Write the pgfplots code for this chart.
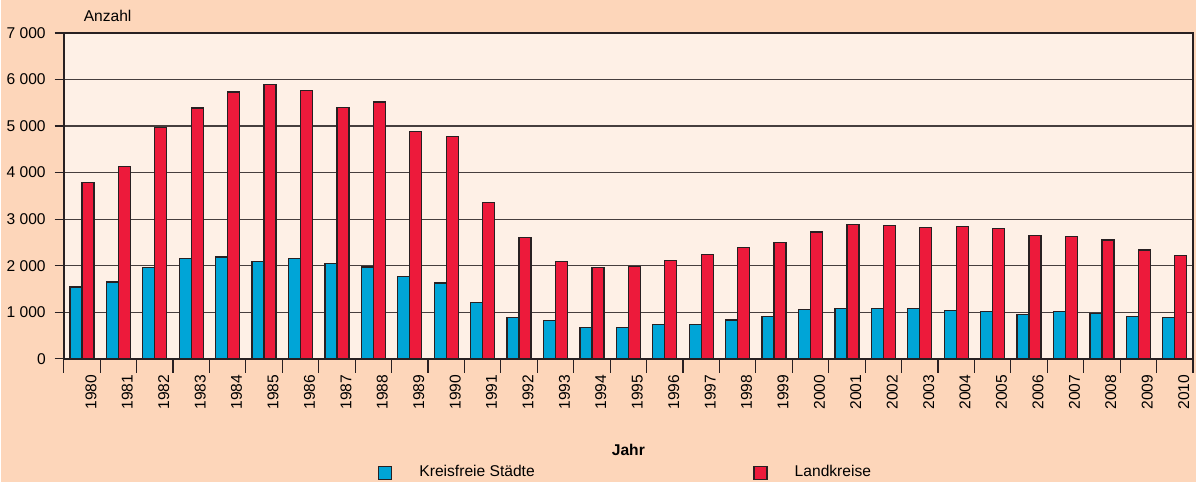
\documentclass[border=0pt]{standalone}
\usepackage{pgfplots}
\usepackage{pgfplotstable}
\pgfplotsset{compat=1.18}
\usepackage{fontspec}
\setmainfont{Liberation Sans}

\definecolor{bgout}{RGB}{253,214,186}
\definecolor{bgin}{RGB}{254,240,230}
\definecolor{kfs}{RGB}{0,165,215}
\definecolor{lk}{RGB}{237,26,59}
\definecolor{edge}{RGB}{40,32,34}
\definecolor{gridc}{RGB}{70,62,62}

\pgfplotsset{
    boxlegend/.style={
        legend image code/.code={\draw[##1] (0pt,-3.3pt) rectangle (6.6pt,3.3pt);}},
}

% Jahr, Kreisfreie Staedte, Landkreise
\pgfplotstableread{
year kfs lk
1980 1540 3785
1981 1650 4130
1982 1955 4970
1983 2160 5390
1984 2190 5730
1985 2095 5895
1986 2160 5760
1987 2040 5400
1988 1975 5520
1989 1770 4890
1990 1630 4780
1991 1210 3360
1992 880 2600
1993 815 2085
1994 675 1955
1995 675 1990
1996 730 2110
1997 730 2240
1998 835 2385
1999 910 2495
2000 1055 2725
2001 1075 2880
2002 1075 2865
2003 1075 2825
2004 1030 2835
2005 1010 2805
2006 950 2655
2007 1010 2630
2008 980 2555
2009 910 2340
2010 880 2215
}\data

\begin{document}
\begin{tikzpicture}[font=\fontsize{7.8}{9.4}\selectfont]
\fill[bgout] (-31.5pt,-61.85pt) rectangle (566.5pt,179.5pt);
\begin{axis}[
    at={(0,0)}, anchor=south west,
    scale only axis, width=565pt, height=163pt,
    axis background/.style={fill=bgin},
    ybar=0pt, bar width=6pt,
    xmin=1979.5, xmax=2010.5,
    ymin=0, ymax=7000,
    xtick={1980,...,2010},
    minor xtick={1979.5,1980.5,...,2010.5},
    ytick={0,1000,...,7000},
    xtick pos=bottom, ytick pos=left,
    tick align=outside,
    major tick length=4.5pt,
    minor tick length=7pt,
    major x tick style={draw=none},
    minor x tick style={draw=edge, line width=0.6pt},
    y tick style={draw=edge, line width=0.6pt},
    axis line style={edge, line width=0.9pt},
    ymajorgrids,
    major grid style={gridc, line width=0.6pt},
    /pgf/number format/assume math mode=true,
    /pgf/number format/1000 sep={\ },
    x tick label style={rotate=90, anchor=east, yshift=-4.5pt,
        /pgf/number format/1000 sep={}},
    y tick label style={xshift=-1pt},
    xlabel={\bfseries Jahr},
    x label style={at={(axis description cs:0.5,-0.28)}, anchor=center},
    ylabel={Anzahl},
    y label style={rotate=-90, at={(axis description cs:0,1)}, anchor=base west,
        xshift=6.5pt, yshift=5.5pt},
    legend columns=2,
    legend style={at={(axis description cs:0.2783,-0.35)}, anchor=west,
        draw=none, fill=none, inner sep=0pt, outer sep=0pt,
        nodes={inner sep=0pt},
        /tikz/every odd column/.append style={column sep=13.5pt}},
    legend cell align=left,
]
\addplot[fill=kfs, draw=edge, line width=0.65pt, boxlegend]
    table[x=year, y=kfs] {\data};
\addlegendentry{\makebox[167pt][l]{Kreisfreie Städte}}
\addplot[fill=lk, draw=edge, line width=0.65pt, boxlegend]
    table[x=year, y=lk] {\data};
\addlegendentry{Landkreise}
\end{axis}
\end{tikzpicture}
\end{document}
